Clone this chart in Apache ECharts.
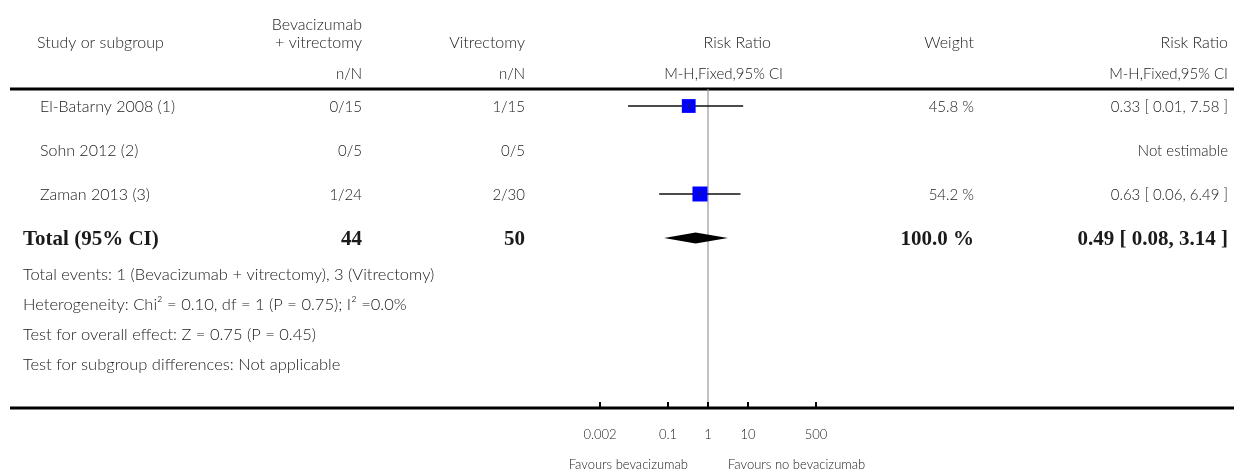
<!DOCTYPE html>
<html><head><meta charset="utf-8">
<script src="https://cdn.jsdelivr.net/npm/echarts@6/dist/echarts.min.js"></script>
<style>html,body{margin:0;padding:0;background:#fff}#c{width:1234px;height:471px}</style>
</head><body><div id="c"></div>
<script>
// ---------------- data ----------------
const studies = ['El-Batarny 2008 (1)', 'Sohn 2012 (2)', 'Zaman 2013 (3)'];
const expEvents = [0, 0, 1];
const expTotal = [15, 5, 24];
const ctlEvents = [1, 0, 2];
const ctlTotal = [15, 5, 30];
const weights = [45.8, null, 54.2];
const rr = [0.33, null, 0.63];
const rrLow = [0.01, null, 0.06];
const rrHigh = [7.58, null, 6.49];
const totalLabel = 'Total (95% CI)';
const totalExp = 44;
const totalCtl = 50;
const totalWeight = 100.0;
const totalRR = [0.49];
const totalLow = [0.08];
const totalHigh = [3.14];
const tickValues = [0.002, 0.1, 1, 10, 500];
const tickLabels = ['0.002', '0.1', '1', '10', '500'];
const footerLines = [
  'Total events: 1 (Bevacizumab + vitrectomy), 3 (Vitrectomy)',
  'Heterogeneity: Chi\u00B2 = 0.10, df = 1 (P = 0.75); I\u00B2 =0.0%',
  'Test for overall effect: Z = 0.75 (P = 0.45)',
  'Test for subgroup differences: Not applicable'
];
const favoursLeft = 'Favours bevacizumab';
const favoursRight = 'Favours no bevacizumab';

// ---------------- layout ----------------
const W = 1234, H = 471;
const gridLeft = 600, gridRight = 816, gridTop = 89, gridBottom = 408;
const rowTop = 106, rowPitch = 44;
const yMin = -(rowTop - gridTop) / rowPitch;
const yMax = (gridBottom - rowTop) / rowPitch;
const colStudy = 40, colTotal = 23, colExp = 362, colCtl = 525, colWeight = 974, colCI = 1228;
const REG = '300 16px Lato';
const NUM = '300 15px Lato';
const FOOT = '300 16.5px Lato';
const BOLD = 'bold 21px "Liberation Serif"';
const SMALL = '300 13px Lato';
const TXT = '#1a1a1a';
const footerY = [275, 305, 335, 365];

const f2 = v => v.toFixed(2);
const ciText = (m, l, h) => f2(m) + ' [ ' + f2(l) + ', ' + f2(h) + ' ]';

function txt(x, y, s, align, font) {
  return { type: 'text', style: { x: x, y: y, text: s, textAlign: align, textVerticalAlign: 'middle', font: font || REG, fill: TXT } };
}

const chart = echarts.init(document.getElementById('c'), null, { renderer: 'canvas' });

const graphics = [
  txt(37, 43, 'Study or subgroup', 'left'),
  txt(colExp, 25, 'Bevacizumab', 'right'),
  txt(colExp, 43, '+ vitrectomy', 'right'),
  txt(colCtl, 43, 'Vitrectomy', 'right'),
  txt(771, 43, 'Risk Ratio', 'right'),
  txt(colWeight, 43, 'Weight', 'right'),
  txt(colCI, 43, 'Risk Ratio', 'right'),
  txt(colExp, 74, 'n/N', 'right', NUM),
  txt(colCtl, 74, 'n/N', 'right', NUM),
  txt(783, 74, 'M-H,Fixed,95% CI', 'right', NUM),
  txt(colCI, 74, 'M-H,Fixed,95% CI', 'right', NUM),
  { type: 'line', shape: { x1: 10, y1: gridTop, x2: W, y2: gridTop }, style: { stroke: '#000', lineWidth: 3 } },
  { type: 'line', shape: { x1: 10, y1: gridBottom, x2: W, y2: gridBottom }, style: { stroke: '#000', lineWidth: 3 } }
];
footerLines.forEach((s, k) => graphics.push(txt(colTotal, footerY[k], s, 'left', FOOT)));

const option = {
  animation: false,
  backgroundColor: '#fff',
  grid: { left: gridLeft, top: gridTop, width: gridRight - gridLeft, height: gridBottom - gridTop },
  xAxis: { type: 'log', logBase: 10, min: 0.002, max: 500, show: false },
  yAxis: { type: 'value', inverse: true, min: yMin, max: yMax, show: false },
  graphic: graphics,
  series: [
    { // null line
      type: 'custom', z: 1,
      data: [[1, yMin]],
      renderItem: (params, api) => {
        const a = api.coord([api.value(0), yMin]);
        const b = api.coord([api.value(0), yMax]);
        return { type: 'line', shape: { x1: a[0], y1: a[1], x2: b[0], y2: b[1] }, style: { stroke: '#999', lineWidth: 1.2 } };
      }
    },
    { // table rows
      type: 'custom', z: 3,
      data: studies.map((s, i) => [1, i]),
      renderItem: (params, api) => {
        const i = params.dataIndex;
        const y = api.coord([1, api.value(1)])[1] + 1;
        const ch = [
          txt(colStudy, y, studies[i], 'left'),
          txt(colExp, y, expEvents[i] + '/' + expTotal[i], 'right', NUM),
          txt(colCtl, y, ctlEvents[i] + '/' + ctlTotal[i], 'right', NUM)
        ];
        if (weights[i] != null) ch.push(txt(colWeight, y, weights[i].toFixed(1) + ' %', 'right', NUM));
        ch.push(txt(colCI, y, rr[i] != null ? ciText(rr[i], rrLow[i], rrHigh[i]) : 'Not estimable', 'right', NUM));
        return { type: 'group', children: ch };
      }
    },
    { // total row text
      type: 'custom', z: 3,
      data: [[1, studies.length]],
      renderItem: (params, api) => {
        const y = api.coord([1, api.value(1)])[1] + 2;
        return { type: 'group', children: [
          txt(colTotal, y, totalLabel, 'left', BOLD),
          txt(colExp, y, String(totalExp), 'right', BOLD),
          txt(colCtl, y, String(totalCtl), 'right', BOLD),
          txt(colWeight, y, totalWeight.toFixed(1) + ' %', 'right', BOLD),
          txt(colCI, y, ciText(totalRR[0], totalLow[0], totalHigh[0]), 'right', BOLD)
        ] };
      }
    },
    { // study estimates
      type: 'custom', z: 4,
      data: rr.map((v, i) => v == null ? null : [v, i, rrLow[i], rrHigh[i], weights[i]]).filter(d => d),
      renderItem: (params, api) => {
        const p = api.coord([api.value(0), api.value(1)]);
        const l = api.coord([api.value(2), api.value(1)]);
        const h = api.coord([api.value(3), api.value(1)]);
        const s = 15 * Math.sqrt(api.value(4) / 54.2);
        return { type: 'group', children: [
          { type: 'line', shape: { x1: l[0], y1: l[1], x2: h[0], y2: h[1] }, style: { stroke: '#111', lineWidth: 1.5 } },
          { type: 'rect', shape: { x: p[0] - s / 2, y: p[1] - s / 2, width: s, height: s }, style: { fill: '#0000FF' } },
          { type: 'line', shape: { x1: p[0], y1: p[1] - 3, x2: p[0], y2: p[1] + 3 }, style: { stroke: '#222', lineWidth: 1 } }
        ] };
      }
    },
    { // pooled diamond
      type: 'custom', z: 4,
      data: totalRR.map((v, k) => [v, studies.length, totalLow[k], totalHigh[k]]),
      renderItem: (params, api) => {
        const p = api.coord([api.value(0), api.value(1)]);
        const l = api.coord([api.value(2), api.value(1)]);
        const h = api.coord([api.value(3), api.value(1)]);
        const hh = 5.5;
        return { type: 'polygon', shape: { points: [[l[0], p[1]], [p[0], p[1] - hh], [h[0], p[1]], [p[0], p[1] + hh]] }, style: { fill: '#000' } };
      }
    },
    { // axis ticks and labels
      type: 'custom', z: 5,
      data: tickValues.map((v, k) => [v, yMax, k]),
      renderItem: (params, api) => {
        const p = api.coord([api.value(0), yMax]);
        const k = api.value(2);
        return { type: 'group', children: [
          { type: 'line', shape: { x1: p[0], y1: p[1], x2: p[0], y2: p[1] - 6 }, style: { stroke: '#000', lineWidth: 2 } },
          txt(p[0], p[1] + 27, tickLabels[k], 'center', SMALL)
        ] };
      }
    },
    { // favours labels
      type: 'custom', z: 5,
      data: [[1, yMax]],
      renderItem: (params, api) => {
        const p = api.coord([api.value(0), yMax]);
        return { type: 'group', children: [
          txt(p[0] - 20, p[1] + 57, favoursLeft, 'right', SMALL),
          txt(p[0] + 20, p[1] + 57, favoursRight, 'left', SMALL)
        ] };
      }
    }
  ]
};
chart.setOption(option);
</script>
</body></html>
